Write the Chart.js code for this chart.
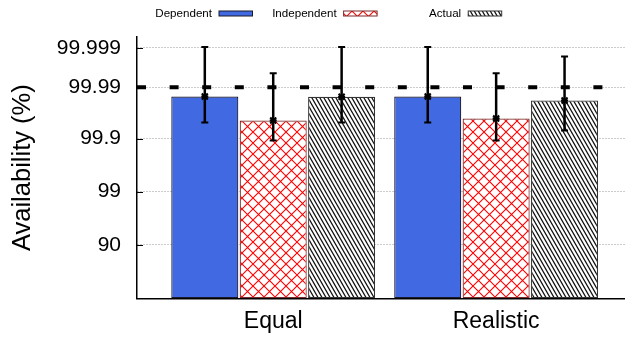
<!DOCTYPE html>
<html><head><meta charset="utf-8">
<script src="https://cdn.jsdelivr.net/npm/chart.js@4"></script>
<style>html,body{margin:0;padding:0;background:#fff}#wrap{width:625px;height:337px}</style>
</head><body><div id="wrap"><canvas id="c" width="625" height="337"></canvas></div>
<script>
// ---- data ----
const categories = ['Equal', 'Realistic'];
const seriesNames = ['Dependent', 'Independent', 'Actual'];
const dependent = [99.9846, 99.9846];
const dependentLow = [99.9505, 99.9505];
const dependentHigh = [99.99906, 99.99906];
const independent = [99.9548, 99.9585];
const independentLow = [99.8911, 99.8911];
const independentHigh = [99.9950, 99.9950];
const actual = [99.9844, 99.9815];
const actualLow = [99.9505, 99.9297];
const actualHigh = [99.99906, 99.99809];
const yTickValues = [90, 99, 99.9, 99.99, 99.999];
const yTickLabels = ['90', '99', '99.9', '99.99', '99.999'];
const targetAvailability = 99.99;

// "nines" axis: reversed log of unavailability (offset 0.001)
const OFF = 100.001;
const nines = a => Math.log10(OFF) - Math.log10(OFF - a);

const FAM = "'Liberation Sans', Arial, Helvetica, sans-serif";
const canvas = document.getElementById('c');
const ctx = canvas.getContext('2d');

function crossPattern() {
  const s = 11, c = document.createElement('canvas');
  c.width = s; c.height = s;
  const x = c.getContext('2d');
  x.fillStyle = '#fff'; x.fillRect(0, 0, s, s);
  x.strokeStyle = '#ff0000'; x.lineWidth = 1.1;
  x.beginPath();
  x.moveTo(-1, -1); x.lineTo(s + 1, s + 1);
  x.moveTo(-1, s + 1); x.lineTo(s + 1, -1);
  x.stroke();
  return ctx.createPattern(c, 'repeat');
}
function hatchPattern() {
  const w = 4, h = 7, c = document.createElement('canvas');
  c.width = w; c.height = h;
  const x = c.getContext('2d');
  x.fillStyle = '#fff'; x.fillRect(0, 0, w, h);
  x.strokeStyle = '#111'; x.lineWidth = 1.3;
  x.beginPath();
  [-w, 0, w].forEach(dx => {
    x.moveTo(dx - 1, -h / w); x.lineTo(dx + w + 1, h + h / w);
  });
  x.stroke();
  return ctx.createPattern(c, 'repeat');
}

const toPts = arr => arr.map((v, i) => ({ x: i, y: nines(v) }));

const overlay = {
  id: 'overlay',
  afterDatasetsDraw(chart) {
    const { ctx, chartArea, scales: { y } } = chart;
    ctx.save();
    ctx.strokeStyle = '#000'; ctx.lineWidth = 1;
    yTickValues.forEach(v => {
      const py = Math.round(y.getPixelForValue(nines(v))) + 0.5;
      ctx.beginPath(); ctx.moveTo(chartArea.left, py); ctx.lineTo(chartArea.left + 6, py); ctx.stroke();
    });
    chart.data.datasets.forEach((ds, di) => {
      const meta = chart.getDatasetMeta(di);
      meta.data.forEach((bar, j) => {
        const x = bar.x;
        const yh = y.getPixelForValue(nines(ds.high[j]));
        const yl = y.getPixelForValue(nines(ds.low[j]));
        const ym = bar.y;
        ctx.strokeStyle = '#000';
        ctx.lineWidth = 2.5;
        ctx.beginPath(); ctx.moveTo(x, yh); ctx.lineTo(x, yl); ctx.stroke();
        ctx.lineWidth = 2;
        ctx.beginPath();
        ctx.moveTo(x - 3.5, yh); ctx.lineTo(x + 3.5, yh);
        ctx.moveTo(x - 3.5, yl); ctx.lineTo(x + 3.5, yl);
        ctx.stroke();
        ctx.beginPath();
        ctx.moveTo(x - 3, ym - 3); ctx.lineTo(x + 3, ym + 3);
        ctx.moveTo(x - 3, ym + 3); ctx.lineTo(x + 3, ym - 3);
        ctx.moveTo(x - 3.5, ym); ctx.lineTo(x + 3.5, ym);
        ctx.stroke();
      });
    });
    const ty = y.getPixelForValue(nines(targetAvailability));
    ctx.setLineDash([9, 23.6]);
    ctx.lineWidth = 4; ctx.lineCap = 'butt';
    ctx.beginPath(); ctx.moveTo(chartArea.left, ty); ctx.lineTo(chartArea.right, ty); ctx.stroke();
    ctx.restore();
  },
  afterDraw(chart) {
    const { ctx } = chart;
    ctx.save();
    ctx.font = '11.6px ' + FAM;
    ctx.textAlign = 'right'; ctx.textBaseline = 'alphabetic';
    chart.data.datasets.forEach((ds, i) => {
      const tr = 212 + i * 124.6;
      ctx.fillStyle = '#000';
      ctx.fillText(ds.label, tr, 17.3);
      ctx.fillStyle = ds.backgroundColor;
      ctx.fillRect(tr + 7, 11, 33.5, 5);
      ctx.strokeStyle = ds.borderColor; ctx.lineWidth = 1;
      ctx.strokeRect(tr + 7, 11, 33.5, 5);
    });
    ctx.restore();
  }
};

new Chart(ctx, {
  type: 'bar',
  data: {
    datasets: [
      { label: seriesNames[0], data: toPts(dependent), low: dependentLow, high: dependentHigh,
        backgroundColor: '#4169e1', borderColor: '#1a1a2a', borderWidth: 1.2 },
      { label: seriesNames[1], data: toPts(independent), low: independentLow, high: independentHigh,
        backgroundColor: crossPattern(), borderColor: '#7a2a2a', borderWidth: 1.2 },
      { label: seriesNames[2], data: toPts(actual), low: actualLow, high: actualHigh,
        backgroundColor: hatchPattern(), borderColor: '#333', borderWidth: 1.2 }
    ]
  },
  options: {
    responsive: false, animation: false,
    layout: { autoPadding: false, padding: { left: 8, top: 37, right: 0, bottom: 0 } },
    datasets: { bar: { categoryPercentage: 0.9206, barPercentage: 0.98, borderSkipped: false } },
    plugins: { legend: { display: false }, tooltip: { enabled: false } },
    scales: {
      x: {
        type: 'linear', min: -0.611, max: 1.578, offset: false,
        afterBuildTicks: s => { s.ticks = categories.map((c, i) => ({ value: i })); },
        afterFit: s => { s.height = 38.7; },
        ticks: { callback: v => categories[v], font: { family: FAM, size: 23 }, color: '#000', padding: 10 },
        grid: { display: false, drawTicks: false, offset: false },
        border: { display: true, color: '#000', width: 1.5 }
      },
      y: {
        type: 'linear', min: 0, max: 4.90,
        afterBuildTicks: s => { s.ticks = yTickValues.map(v => ({ value: nines(v) })); },
        afterFit: s => { s.width = 129; },
        ticks: { callback: (v, i) => yTickLabels[i], font: { family: FAM, size: 21 }, color: '#000', padding: 16 },
        grid: { color: '#999', lineWidth: 1, drawTicks: false },
        border: { display: true, color: '#000', width: 1.5, dash: [1, 2] },
        title: { display: true, text: 'Availability (%)', font: { family: FAM, size: 25.5 }, color: '#000', padding: { top: 0, bottom: 2 } }
      }
    }
  },
  plugins: [overlay]
});
</script>
</body></html>
